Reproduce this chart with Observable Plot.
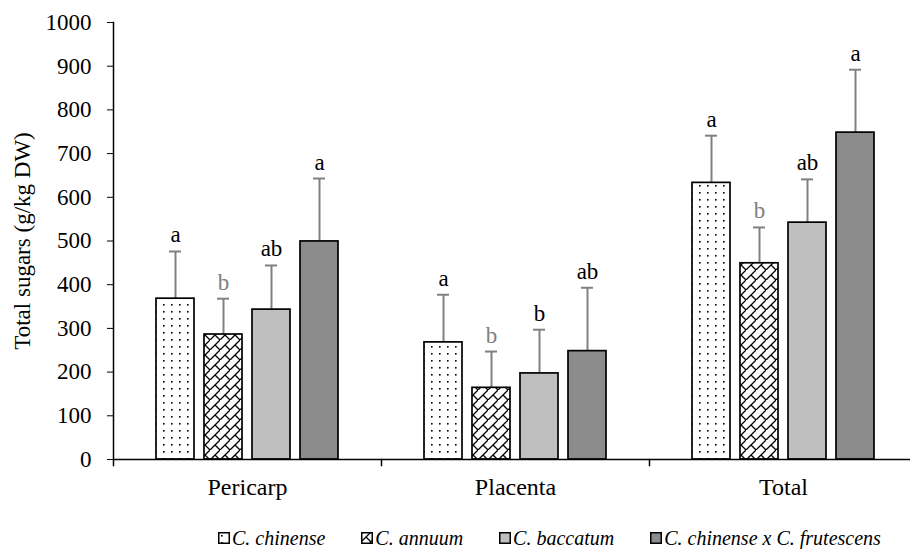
<!DOCTYPE html>
<html><head><meta charset="utf-8">
<script src="https://cdn.jsdelivr.net/npm/d3@7"></script>
<script src="https://cdn.jsdelivr.net/npm/@observablehq/plot@0.6"></script>
<style>
body{margin:0;background:#fff;font-family:"Liberation Serif","Times New Roman",serif;overflow:hidden}
#chart svg{display:block}
#legend{display:flex;align-items:center;padding-left:218px;height:22px;line-height:22px;padding-top:7px;font-style:italic;font-size:20px;color:#000}
.item{display:flex;align-items:center;margin-right:36px;white-space:nowrap}
.item svg{margin-right:2px;display:block}
</style></head><body>
<div id="chart"></div>
<div id="legend"></div>
<script>
const categories = ["Pericarp", "Placenta", "Total"];
const species = ["C. chinense", "C. annuum", "C. baccatum", "C. chinense x C. frutescens"];
const pericarpMean = [368, 286, 343, 499];
const pericarpSD   = [108, 82, 101, 144];
const placentaMean = [268, 164, 197, 248];
const placentaSD   = [109, 83, 100, 145];
const totalMean    = [633, 449, 542, 748];
const totalSD      = [108, 82, 99, 144];
const pericarpLetters = ["a", "b", "ab", "a"];
const placentaLetters = ["a", "b", "b", "ab"];
const totalLetters    = ["a", "b", "ab", "a"];
const yTicks = [0, 100, 200, 300, 400, 500, 600, 700, 800, 900, 1000];
const fills = ["url(#dots)", "url(#brick)", "#bfbfbf", "#8c8c8c"];
const letterColors = ["#000", "#7f7f7f", "#000", "#000"];

const means = [pericarpMean, placentaMean, totalMean];
const sds = [pericarpSD, placentaSD, totalSD];
const letters = [pericarpLetters, placentaLetters, totalLetters];
const rows = [];
categories.forEach((c, i) => species.forEach((s, j) => rows.push({
  cat: c, sp: s, mean: means[i][j], top: means[i][j] + sds[i][j],
  letter: letters[i][j], fill: fills[j], lc: letterColors[j]
})));

const chart = Plot.plot({
  width: 910, height: 520,
  marginLeft: 113, marginRight: -7, marginTop: 22, marginBottom: 61,
  style: {fontFamily: "'Liberation Serif', 'Times New Roman', serif", fontSize: "23px", color: "#000", background: "#fff", overflow: "hidden"},
  fx: {domain: categories, padding: 0, label: null},
  x: {domain: species, paddingInner: 0.2, paddingOuter: 0.86, axis: null},
  y: {domain: [0, 1000]},
  color: {type: "identity"},
  marks: [
    Plot.ruleX(rows, {fx: "cat", x: "sp", y1: "mean", y2: "top", stroke: "#808080", strokeWidth: 2}),
    Plot.tickY(rows, {fx: "cat", x: "sp", y: "top", stroke: "#808080", strokeWidth: 2, insetLeft: 13, insetRight: 13}),
    Plot.barY(rows, {fx: "cat", x: "sp", y: "mean", fill: "fill", stroke: "#000", strokeWidth: 1.7}),
    Plot.text(rows, {fx: "cat", x: "sp", y: "top", text: "letter", fill: "lc", lineAnchor: "bottom", dy: -9, fontSize: 23}),
    Plot.ruleY([0], {stroke: "#000", strokeWidth: 1.5}),
    Plot.frame({anchor: "right", insetTop: 437, insetBottom: -6, stroke: "#000", strokeWidth: 1.5}),
    Plot.frame({anchor: "left", facetAnchor: "left", insetBottom: -6, stroke: "#000", strokeWidth: 1.5}),
    Plot.axisY({ticks: yTicks, tickFormat: d => String(d), tickSize: 6, tickPadding: 16, label: "Total sugars (g/kg DW)", labelAnchor: "center", labelArrow: "none", labelOffset: 100, fontSize: 23}),
    Plot.axisFx({anchor: "bottom", tickSize: 0, tickPadding: 18, label: null, fontSize: 24})
  ]
});

const defs = `<defs>
<pattern id="dots" patternUnits="userSpaceOnUse" width="8" height="7">
<rect width="8" height="7" fill="#fff"/><rect x="3" y="3" width="1.6" height="1.6" fill="#000"/></pattern>
<pattern id="brick" patternUnits="userSpaceOnUse" width="10" height="10">
<rect width="10" height="10" fill="#fff"/><path d="M-1,11 L11,-1 M5,5 L10,10" stroke="#000" stroke-width="1.3" fill="none"/></pattern>
</defs>`;
chart.insertAdjacentHTML("afterbegin", defs);
document.getElementById("chart").appendChild(chart);

const legend = document.getElementById("legend");
species.forEach((s, j) => {
  const it = document.createElement("div");
  it.className = "item";
  it.innerHTML = `<svg width="12" height="12"><rect x="0.75" y="0.75" width="10.5" height="10.5" fill="${fills[j]}" stroke="#000" stroke-width="1.5"/></svg><span>${s}</span>`;
  legend.appendChild(it);
});
</script>
</body></html>
